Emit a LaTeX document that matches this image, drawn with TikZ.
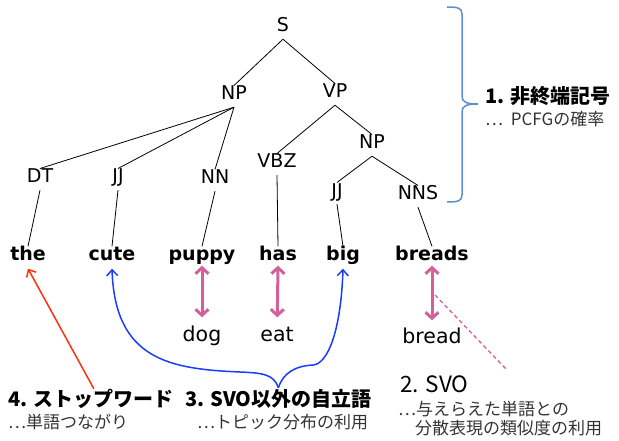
\documentclass[tikz,border=0pt]{standalone}
\usepackage{fontspec}
\setmainfont{DejaVu Sans}
\newfontfamily\jp{Noto Sans CJK JP}
\usetikzlibrary{arrows.meta}
\definecolor{simpink}{HTML}{D4609A}
\definecolor{topicblue}{HTML}{1A3CFF}
\definecolor{stopred}{HTML}{FF3010}
\definecolor{bracecol}{HTML}{5B8FCF}
\definecolor{subgray}{HTML}{333333}
\tikzset{
  cat/.style={anchor=base, font=\fontsize{19}{19}\selectfont, text height=0.73em, text depth=0pt, inner xsep=2pt, inner ysep=7pt},
  word/.style={anchor=base, font=\fontsize{19}{19}\selectfont\bfseries, text height=0.75em, text depth=0.25em, inner xsep=2pt, inner ysep=6pt},
  gloss/.style={anchor=base, font=\fontsize{20.5}{20.5}\selectfont, text height=0.75em, text depth=0.25em, inner sep=2pt},
  branch/.style={draw=black, line width=0.8pt},
  head/.style={anchor=west, font=\jp\fontsize{20}{20}\selectfont\bfseries, text height=0.88em, text depth=0.12em, inner sep=2pt, text=black},
  sub/.style={anchor=west, font=\jp\fontsize{17}{17}\selectfont, text height=0.88em, text depth=0.12em, inner sep=0pt, text=subgray},
  simarrow/.style={draw=simpink, line width=3pt, {Straight Barb[length=6pt,width=13pt]}-{Straight Barb[length=6pt,width=13pt]}},
  thinarrow/.style={line width=1.5pt, -{Straight Barb[length=6pt,width=11pt]}},
}
\begin{document}
\begin{tikzpicture}[x=1pt,y=-1pt]
\useasboundingbox (0,0) rectangle (619,441);

% parse tree: categories
\node[cat] (S)   at (283,32)  {S};
\node[cat] (NP)  at (234,100) {NP};
\node[cat] (VP)  at (335,98)  {VP};
\node[cat] (NPb) at (372,149) {NP};
\node[cat] (VBZ) at (277,168) {VBZ};
\node[cat] (DT)  at (40,183)  {DT};
\node[cat] (JJ)  at (118,183) {JJ};
\node[cat] (NN)  at (215,184) {NN};
\node[cat] (JJb) at (337,197) {JJ};
\node[cat] (NNS) at (418,200) {NNS};

% sentence
\node[word] (the)    at (28,260)  {the};
\node[word] (cute)   at (112,260) {cute};
\node[word] (puppy)  at (202,260) {puppy};
\node[word] (has)    at (278,260) {has};
\node[word] (big)    at (343,260) {big};
\node[word] (breads) at (432,260) {breads};

% similar words
\node[gloss] (dog)   at (202,341) {dog};
\node[gloss] (eat)   at (277,341) {eat};
\node[gloss] (bread) at (432,343) {bread};

% tree branches
\draw[branch] (S.south) -- (NP.north);
\draw[branch] (S.south) -- (VP.north);
\draw[branch] (NP.south) -- (DT.north);
\draw[branch] (NP.south) -- (JJ.north);
\draw[branch] (NP.south) -- (NN.north);
\draw[branch] (VP.south) -- (VBZ.north);
\draw[branch] (VP.south) -- (NPb.north);
\draw[branch] (NPb.south) -- (JJb.north);
\draw[branch] (NPb.south) -- (NNS.north);
\draw[branch] (DT.south) -- (the.north);
\draw[branch] (JJ.south) -- (cute.north);
\draw[branch] (NN.south) -- (puppy.north);
\draw[branch] (VBZ.south) -- (has.north);
\draw[branch] (JJb.south) -- (big.north);
\draw[branch] (NNS.south) -- (breads.north);

% similarity links
\draw[simarrow, shorten >=14pt, shorten <=-3pt] (puppy.south) -- (dog.north);
\draw[simarrow, shorten >=14pt, shorten <=-3pt] (has.south) -- (eat.north);
\draw[simarrow, shorten >=13pt, shorten <=-3pt] (breads.south) -- (bread.north);

% brace over the nonterminals
\draw[draw=bracecol, line width=1.5pt]
  (447,7) .. controls (458,7) and (462,8) .. (462,14) -- (462,96)
  .. controls (462,102) and (466,104) .. (478,104)
  .. controls (466,104) and (462,106) .. (462,112) -- (462,195)
  .. controls (462,201) and (458,202) .. (447,202);

% labels
\node[head] (lab1) at (483,100) {1. 非終端記号};
\node[sub]  (sub1) at (485,122) {…\ \ PCFGの確率};

\node[head, font=\jp\fontsize{22.5}{22.5}\selectfont] (lab2) at (398,389) {2. SVO};
\node[sub]  (sub2a) at (398,412) {…与えらえた単語との};
\node[sub]  (sub2b) at (415,431) {分散表現の類似度の利用};

\node[head] (lab3) at (183,403) {3. SVO以外の自立語};
\node[sub]  (sub3) at (197,425) {…トピック分布の利用};

\node[head] (lab4) at (6,403) {4. ストップワード};
\node[sub]  (sub4) at (8,425) {…単語つながり};

% SVO pointer
\coordinate (breadmid) at (435,295);
\coordinate (svotail) at (507,370);
\draw[draw=simpink, line width=1.3pt, dash pattern=on 4pt off 3pt] (breadmid) -- (svotail);

% stop word arrow
\draw[thinarrow, draw=stopred] ([xshift=3pt,yshift=7pt]lab4.north) -- (the.south);

% content-word brace arrows
\coordinate (bracetip) at ([yshift=8pt]lab3.north);
\draw[thinarrow, draw=topicblue]
  (bracetip) .. controls (274,374) and (262,373) .. (240,372)
  .. controls (170,369) and (115,360) .. (cute.south);
\draw[thinarrow, draw=topicblue]
  (bracetip) .. controls (283,373) and (295,366) .. (313,365)
  .. controls (328,364) and (341,330) .. (big.south);
\end{tikzpicture}
\end{document}
